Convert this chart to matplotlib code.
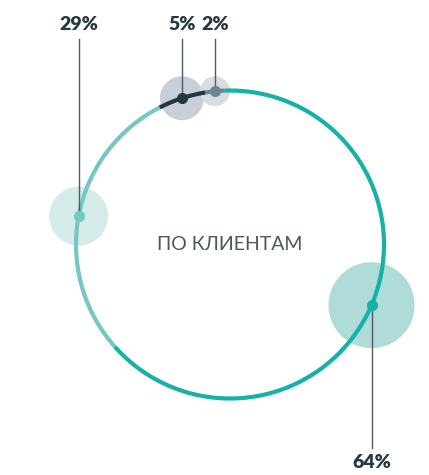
import numpy as np
import matplotlib.pyplot as plt
from matplotlib.patches import Circle

# data
labels = ['64%', '29%', '5%', '2%']
values = [64, 29, 5, 2]
title = 'ПО КЛИЕНТАМ'

# styles
ring_colors = ['#17b1a7', '#74c7c2', '#1f3842', '#6d8591']
bubble_colors = ['#afdbd8', '#d4ebe9', '#c8cfd7', '#d9dde3']
bubble_r = [43, 29.5, 22, 15]
label_y = [463, 24, 24, 24]

cx, cy, R = 230, 244.5, 154
start = 92  # degrees, going clockwise

fig = plt.figure(figsize=(4.29, 4.75), dpi=100)
ax = fig.add_axes([0, 0, 1, 1])
ax.set_xlim(0, 429)
ax.set_ylim(475, 0)
ax.set_aspect('equal')
ax.axis('off')

def pt(deg, r=R):
    a = np.radians(deg)
    return cx + r * np.cos(a), cy - r * np.sin(a)

total = sum(values)
a0 = start
mids = []
for v in values:
    a1 = a0 - 360 * v / total
    mids.append((a0 + a1) / 2)
    a0 = a1

# bubbles behind ring
for i, m in enumerate(mids):
    x, y = pt(m)
    ax.add_patch(Circle((x, y), bubble_r[i], color=bubble_colors[i], lw=0, zorder=1))

# ring segments
a0 = start
for i, v in enumerate(values):
    a1 = a0 - 360 * v / total
    t = np.linspace(a0, a1, 200)
    xs, ys = pt(t)
    ax.plot(xs, ys, color=ring_colors[i], lw=3, solid_capstyle='butt', zorder=2)
    a0 = a1

# dots, leader lines, labels
for i, m in enumerate(mids):
    x, y = pt(m)
    ax.plot(x, y, 'o', ms=7, color=ring_colors[i], zorder=4)
    if label_y[i] > y:
        ax.plot([x, x], [y, label_y[i] - 15], color='#4d5c64', lw=1, zorder=3)
    else:
        ax.plot([x, x], [y, label_y[i] + 15], color='#4d5c64', lw=1, zorder=3)
    ax.text(x, label_y[i], labels[i], ha='center', va='center', fontsize=14,
            fontweight='heavy', color='#263841', family=['Lato', 'DejaVu Sans'])

ax.text(cx, cy, title, ha='center', va='center', fontsize=14,
        fontweight='normal', color='#4a5960', family=['Lato', 'DejaVu Sans'])

fig.savefig('out.png', dpi=100)
